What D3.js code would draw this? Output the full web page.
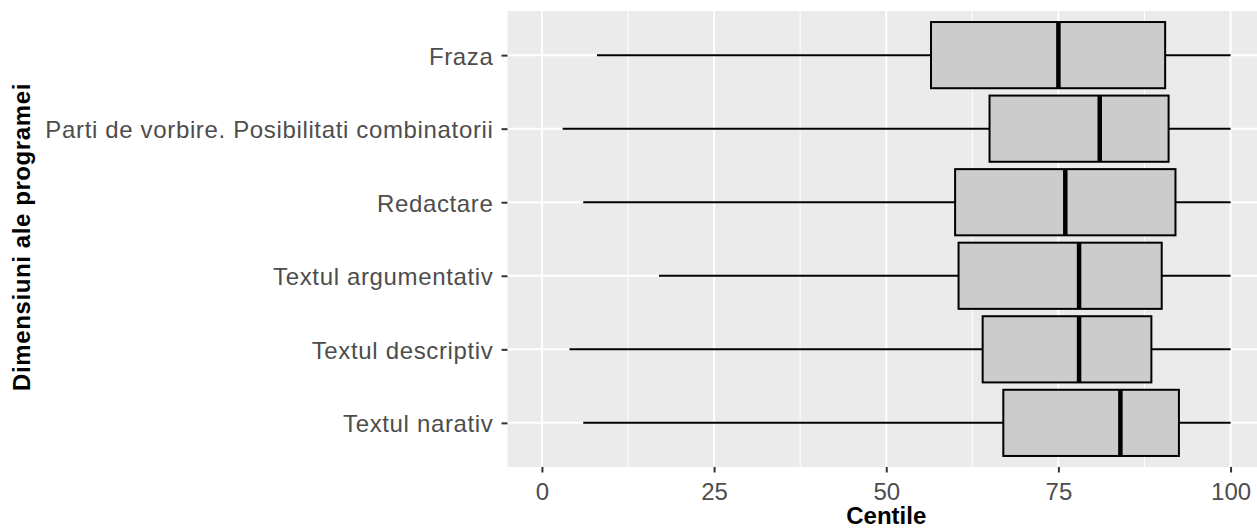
<!DOCTYPE html>
<html>
<head>
<meta charset="utf-8">
<script src="https://cdn.jsdelivr.net/npm/d3@7"></script>
<style>
  html, body { margin: 0; padding: 0; background: #ffffff; }
  svg { display: block; }
</style>
</head>
<body>
<script>
const categories = ["Fraza", "Parti de vorbire. Posibilitati combinatorii", "Redactare", "Textul argumentativ", "Textul descriptiv", "Textul narativ"];
const whiskerLow = [8, 3, 6, 17, 4, 6];
const q1 = [56.5, 65, 60, 60.5, 64, 67];
const medianVals = [75, 81, 76, 78, 78, 84];
const q3 = [90.5, 91, 92, 90, 88.5, 92.5];
const whiskerHigh = [100, 100, 100, 100, 100, 100];
const xTicks = [0, 25, 50, 75, 100];
const xMinor = [12.5, 37.5, 62.5, 87.5];
const xTitle = "Centile";
const yTitle = "Dimensiuni ale programei";

const W = 1257, H = 530;
const panel = { left: 507.5, right: 1265, top: 11, bottom: 467 };
const FONT = "'Liberation Sans', Arial, sans-serif";

const svg = d3.select("body").append("svg").attr("width", W).attr("height", H);

const x = d3.scaleLinear().domain([-5, 105]).range([panel.left, panel.right]);
const y = d3.scalePoint().domain(categories).range([panel.top, panel.bottom]).padding(0.6);
const boxH = y.step() * 0.9;

svg.append("rect")
  .attr("x", panel.left).attr("y", panel.top)
  .attr("width", panel.right - panel.left).attr("height", panel.bottom - panel.top)
  .attr("fill", "#EBEBEB");

const grid = svg.append("g");
grid.selectAll(".minor").data(xMinor).join("line")
  .attr("x1", d => x(d)).attr("x2", d => x(d))
  .attr("y1", panel.top).attr("y2", panel.bottom)
  .attr("stroke", "#ffffff").attr("stroke-width", 1);
grid.selectAll(".majx").data(xTicks).join("line")
  .attr("x1", d => x(d)).attr("x2", d => x(d))
  .attr("y1", panel.top).attr("y2", panel.bottom)
  .attr("stroke", "#ffffff").attr("stroke-width", 2);
grid.selectAll(".majy").data(categories).join("line")
  .attr("x1", panel.left).attr("x2", panel.right)
  .attr("y1", d => y(d)).attr("y2", d => y(d))
  .attr("stroke", "#ffffff").attr("stroke-width", 2);

const data = categories.map((c, i) => ({
  c, lo: whiskerLow[i], q1: q1[i], med: medianVals[i], q3: q3[i], hi: whiskerHigh[i]
}));

const g = svg.append("g").selectAll("g").data(data).join("g");
g.append("line")
  .attr("x1", d => x(d.lo)).attr("x2", d => x(d.q1))
  .attr("y1", d => y(d.c)).attr("y2", d => y(d.c))
  .attr("stroke", "#000").attr("stroke-width", 2);
g.append("line")
  .attr("x1", d => x(d.q3)).attr("x2", d => x(d.hi))
  .attr("y1", d => y(d.c)).attr("y2", d => y(d.c))
  .attr("stroke", "#000").attr("stroke-width", 2);
g.append("rect")
  .attr("x", d => x(d.q1)).attr("width", d => x(d.q3) - x(d.q1))
  .attr("y", d => y(d.c) - boxH / 2).attr("height", boxH)
  .attr("fill", "#CCCCCC").attr("stroke", "#000").attr("stroke-width", 2);
g.append("line")
  .attr("x1", d => x(d.med)).attr("x2", d => x(d.med))
  .attr("y1", d => y(d.c) - boxH / 2).attr("y2", d => y(d.c) + boxH / 2)
  .attr("stroke", "#000").attr("stroke-width", 4.5);

const xAxis = svg.append("g")
  .attr("transform", `translate(0,${panel.bottom})`)
  .call(d3.axisBottom(x).tickValues(xTicks).tickSize(5.5).tickPadding(10));
const yAxis = svg.append("g")
  .attr("transform", `translate(${panel.left},0)`)
  .call(d3.axisLeft(y).tickSize(6).tickPadding(8));

[xAxis, yAxis].forEach(a => {
  a.select(".domain").remove();
  a.selectAll(".tick line").attr("stroke", "#333333").attr("stroke-width", 2);
  a.selectAll(".tick text")
    .attr("fill", "#4D4D4D")
    .style("font-family", FONT)
    .style("font-size", "24px");
});
yAxis.selectAll(".tick text").style("letter-spacing", "0.65px").attr("dy", "0.38em");

svg.append("text")
  .attr("x", (panel.left + panel.right) / 2).attr("y", 524)
  .attr("text-anchor", "middle")
  .style("font-family", FONT)
  .style("font-size", "24px").style("font-weight", "bold")
  .attr("fill", "#000")
  .text(xTitle);

svg.append("text")
  .attr("transform", `translate(29.5,${(panel.top + panel.bottom) / 2 - 2}) rotate(-90)`)
  .attr("text-anchor", "middle")
  .style("font-family", FONT)
  .style("font-size", "24px").style("font-weight", "bold")
  .style("letter-spacing", "0.6px")
  .attr("fill", "#000")
  .text(yTitle);
</script>
</body>
</html>
